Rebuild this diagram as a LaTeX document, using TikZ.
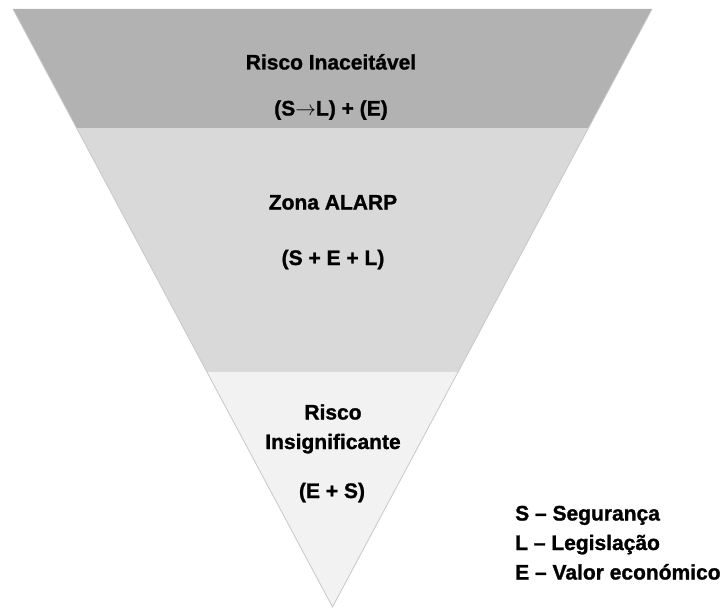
\documentclass[tikz,border=0pt]{standalone}
\usepackage{fontspec}
\setmainfont{Liberation Sans}
\newfontfamily\heavyfont[BoldFeatures={FakeBold=1.2}]{Liberation Sans}
\usetikzlibrary{calc}
\definecolor{bandA}{HTML}{B2B2B2}
\definecolor{bandB}{HTML}{D9D9D9}
\definecolor{bandC}{HTML}{F2F2F2}
\tikzset{
  lbl/.style={font=\heavyfont\fontsize{21}{30}\selectfont\bfseries, inner sep=0pt, anchor=base},
  leg/.style={font=\heavyfont\fontsize{21}{30}\selectfont\bfseries, inner sep=0pt, anchor=base west},
  edge/.style={draw=black!22, line width=0.8pt}
}
\begin{document}
\begin{tikzpicture}[x=1pt,y=-1pt]
\useasboundingbox (0,0) rectangle (728,610);
\coordinate (A) at (13,9);
\coordinate (B) at (652,9);
\coordinate (C) at (332.5,607);
\coordinate (L1) at ($(A)!0.199!(C)$);
\coordinate (R1) at ($(B)!0.199!(C)$);
\coordinate (L2) at ($(A)!0.607!(C)$);
\coordinate (R2) at ($(B)!0.607!(C)$);
\fill[bandA] (A) -- (B) -- (R1) -- (L1) -- cycle;
\fill[bandB] (L1) -- (R1) -- (R2) -- (L2) -- cycle;
\fill[bandC] (L2) -- (R2) -- (C) -- cycle;
\draw[edge] (A) -- (C) -- (B);
\node[lbl] (t1) at (331,69.5) {Risco Inaceitável};
\node[lbl] (t2) at (331,115.5) {(S\(\rightarrow\)L) + (E)};
\node[lbl] (z1) at (333,209.5) {Zona ALARP};
\node[lbl] (z2) at (333,265) {(S + E + L)};
\node[lbl] (r1) at (333,419.5) {Risco};
\node[lbl] (r2) at (333,449) {Insignificante};
\node[lbl] (r3) at (332,498) {(E + S)};
\node[leg] (k1) at (515,520.5) {S – Segurança};
\node[leg] (k2) at (515,550) {L – Legislação};
\node[leg] (k3) at (515,579.5) {E – Valor económico};
\end{tikzpicture}
\end{document}
